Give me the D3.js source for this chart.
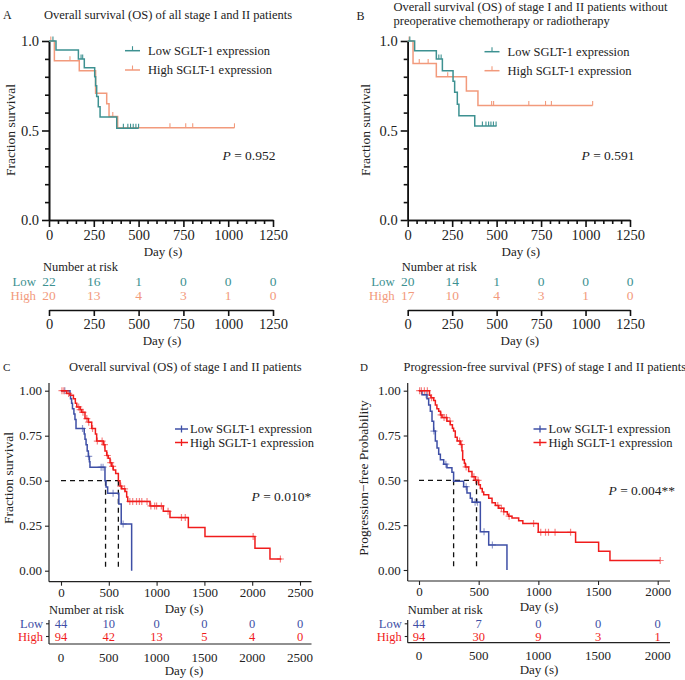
<!DOCTYPE html>
<html><head><meta charset="utf-8">
<script src="https://cdn.jsdelivr.net/npm/d3@7"></script>
<style>
body{margin:0;background:#fff}
svg text{font-family:"Liberation Serif","Times New Roman",serif}
</style>
</head><body><script>
// ---------------- DATA ----------------
// Panel A: [time, survival] steps, end time, censor times
const aLowSteps = [[0,1],[39,0.95],[164,0.90],[197,0.85],[255,0.80],[260,0.75],[266,0.69],[275,0.633],[285,0.575],[378,0.513]];
const aLowEnd = 500;
const aLowCensor = [22,179,188,415,440,455,470,485,500];
const aHighSteps = [[0,1],[30,0.89],[169,0.834],[260,0.708],[322,0.65],[335,0.578],[383,0.515]];
const aHighEnd = 1035;
const aHighCensor = [10,117,356,675,763,802,1035];
// Panel B
const bLowSteps = [[0,1],[39,0.945],[161,0.90],[195,0.834],[255,0.775],[264,0.713],[279,0.646],[288,0.583],[377,0.525]];
const bLowEnd = 500;
const bLowCensor = [12,175,188,420,440,455,468,482,497];
const bHighSteps = [[0,1],[30,0.875],[161,0.80],[330,0.72],[395,0.64]];
const bHighEnd = 1040;
const bHighCensor = [8,65,115,225,472,483,681,775,808,1040];
// Panel C
const cLowSteps = [[0,1],[94,0.977],[100,0.955],[111,0.93],[120,0.90],[135,0.87],[146,0.84],[157,0.79],[243,0.76],[251,0.73],[262,0.70],[274,0.665],[286,0.635],[297,0.605],[303,0.575],[460,0.50],[471,0.465],[488,0.43],[605,0.37],[630,0.26],[739,0]];
const cLowEnd = 739;
const cLowCensor = [40,225,290,420,440,545,650];
const cHighSteps = [[0,1],[60,0.985],[95,0.975],[130,0.955],[150,0.93],[165,0.91],[200,0.895],[216,0.88],[251,0.845],[286,0.825],[321,0.79],[360,0.76],[373,0.72],[443,0.70],[460,0.665],[478,0.64],[495,0.625],[513,0.60],[530,0.58],[547,0.56],[572,0.54],[600,0.50],[617,0.47],[635,0.455],[670,0.44],[687,0.41],[698,0.385],[931,0.36],[1070,0.33],[1140,0.295],[1332,0.24],[1506,0.19],[2029,0.125],[2186,0.065]];
const cHighEnd = 2305;
const cHighCensor = [10,30,80,185,200,230,270,290,330,380,430,455,485,520,540,625,665,720,750,790,820,845,900,940,980,1000,1050,1120,1260,1300,2010,2295];
const cMedians = [466,600];
// Panel D
const dLowSteps = [[0,1],[25,0.977],[67,0.955],[81,0.92],[95,0.885],[109,0.83],[123,0.775],[137,0.72],[151,0.68],[165,0.645],[179,0.615],[207,0.59],[234,0.57],[276,0.545],[290,0.495],[374,0.465],[402,0.43],[430,0.40],[445,0.378],[514,0.214],[584,0.14],[737,0]];
const dLowEnd = 737;
const dLowCensor = [60,125,225,395,470,490,545,615];
const dHighSteps = [[0,1],[88,0.975],[100,0.96],[123,0.945],[137,0.92],[150,0.90],[165,0.885],[180,0.865],[193,0.85],[234,0.83],[262,0.81],[280,0.79],[290,0.775],[304,0.74],[320,0.72],[346,0.70],[360,0.665],[366,0.615],[380,0.595],[388,0.575],[416,0.55],[444,0.52],[472,0.50],[500,0.475],[514,0.455],[530,0.435],[542,0.42],[584,0.40],[612,0.375],[640,0.36],[668,0.345],[710,0.325],[740,0.31],[751,0.30],[779,0.29],[835,0.275],[870,0.26],[999,0.21],[1312,0.155],[1505,0.105],[1600,0.053]];
const dHighEnd = 2021;
const dHighCensor = [5,20,45,70,105,185,210,230,260,340,355,395,460,475,495,660,690,710,755,960,1020,1060,1085,1140,1270,2021];
const dMedians = [290,482];

// ticks & risk tables
const ticksAB = [0,250,500,750,1000,1250];
const ticksC = [0,500,1000,1500,2000,2500];
const ticksD = [0,500,1000,1500,2000];
const aRiskLow = [22,16,1,0,0,0], aRiskHigh = [20,13,4,3,1,0];
const bRiskLow = [20,14,1,0,0,0], bRiskHigh = [17,10,4,3,1,0];
const cRiskLow = [44,10,0,0,0,0], cRiskHigh = [94,42,13,5,4,0];
const dRiskLow = [44,7,0,0,0], dRiskHigh = [94,30,9,3,1];
const legendLabels = ["Low SGLT-1 expression","High SGLT-1 expression"];
const riskLabels = ["Low","High"];

// colours
const TEAL="#3d9191", ORANGE="#f29a7c", BLUE="#3e4fa6", RED="#f01c1c";

// ---------------- DRAW ----------------
const svg = d3.select("body").append("svg").attr("width",685).attr("height",680);
const fmtInt = d3.format("d");

function survAt(steps,t){let s=steps[0][1];for(const d of steps){if(d[0]<=t)s=d[1];}return s;}
function stepPath(steps,end,x,y){
  const pts=steps.concat([[end,steps[steps.length-1][1]]]);
  return d3.line().x(d=>x(d[0])).y(d=>y(d[1])).curve(d3.curveStepAfter)(pts);
}
function txt(g,x,y,s,opt={}){
  return g.append("text").attr("x",x).attr("y",y).attr("dy","0.35em")
   .attr("font-size",opt.size||12.5).attr("fill",opt.fill||"#222")
   .attr("text-anchor",opt.anchor||"start").text(s);
}

// ===== Panels A & B (Prism style) =====
function prismPanel(p){
  const g=svg.append("g");
  const x=d3.scaleLinear().domain([0,1250]).range([p.x0,p.x1]);
  const y=d3.scaleLinear().domain([0,1]).range([220,41]);
  const yMajor=d3.axisLeft(y).tickValues([0,0.5,1]).tickFormat(d3.format(".1f")).tickSize(7).tickSizeOuter(0);
  const yMinor=d3.axisLeft(y).tickValues(d3.range(1,10).filter(v=>v!==5).map(v=>v/10)).tickFormat("").tickSize(4).tickSizeOuter(0);
  const xMajor=d3.axisBottom(x).tickValues(ticksAB).tickFormat(fmtInt).tickSize(7).tickSizeOuter(0);
  const xMinor=d3.axisBottom(x).tickValues(d3.range(50,1250,50).filter(v=>v%250)).tickFormat("").tickSize(4).tickSizeOuter(0);
  [yMajor,yMinor].forEach(a=>{g.append("g").attr("transform",`translate(${p.x0},0)`).call(a);});
  [xMajor,xMinor].forEach(a=>{g.append("g").attr("transform",`translate(0,220)`).call(a);});
  g.selectAll(".domain,.tick line").attr("stroke","#111").attr("stroke-width",1.6);
  g.selectAll(".tick text").attr("font-size",14.5).attr("fill","#222");
  const series=[[p.low,p.lowEnd,p.lowC,TEAL],[p.high,p.highEnd,p.highC,ORANGE]];
  series.slice().reverse().forEach(([st,en,ce,col])=>{
    g.append("path").attr("d",stepPath(st,en,x,y)).attr("fill","none").attr("stroke",col).attr("stroke-width",1.5);
    g.selectAll(null).data(ce).enter().append("line")
      .attr("x1",d=>x(d)).attr("x2",d=>x(d))
      .attr("y1",d=>y(survAt(st,d))).attr("y2",d=>y(survAt(st,d))-4.5)
      .attr("stroke",col).attr("stroke-width",1.1);
  });
  [TEAL,ORANGE].forEach((c,i)=>{
    const ly=p.legY[i];
    g.append("line").attr("x1",p.legX).attr("x2",p.legX+15).attr("y1",ly).attr("y2",ly).attr("stroke",c).attr("stroke-width",1.5);
    g.append("line").attr("x1",p.legX+7.5).attr("x2",p.legX+7.5).attr("y1",ly).attr("y2",ly-4.5).attr("stroke",c).attr("stroke-width",1.1);
    txt(g,p.legX+23,ly,legendLabels[i],{size:12.5});
  });
  g.append("text").attr("transform",`translate(${p.ylabX},130) rotate(-90)`).attr("text-anchor","middle")
   .attr("dy","0.35em").attr("font-size",13.5).attr("fill","#222").text("Fraction survival");
  const pt=g.append("text").attr("x",p.pX).attr("y",155).attr("dy","0.35em").attr("font-size",13.5).attr("fill","#222");
  pt.append("tspan").attr("font-style","italic").text("P");
  pt.append("tspan").text(" = "+p.pVal);
  txt(g,(p.x0+p.x1)/2+2,251.5,"Day (s)",{anchor:"middle",size:13});
  // risk table
  txt(g,p.x0-6,266.5,"Number at risk",{size:12.5});
  [[p.rLow,TEAL,281.6],[p.rHigh,ORANGE,295.2]].forEach(([arr,col,yy],i)=>{
    txt(g,p.x0-13,yy,riskLabels[i],{anchor:"end",fill:col,size:12.8});
    g.selectAll(null).data(arr).enter().append("text").attr("x",(d,j)=>x(ticksAB[j])).attr("y",yy).attr("dy","0.35em")
      .attr("text-anchor","middle").attr("font-size",13.5).attr("fill",col).text(d=>d);
  });
  const ra=g.append("g").attr("transform","translate(0,310)").call(d3.axisBottom(x).tickValues(ticksAB).tickFormat(fmtInt).tickSize(6).tickSizeOuter(0));
  ra.selectAll(".domain,.tick line").attr("stroke","#111").attr("stroke-width",1.6);
  ra.selectAll(".tick text").attr("font-size",14.5).attr("fill","#222");
  txt(g,(p.x0+p.x1)/2+1,340.5,"Day (s)",{anchor:"middle",size:13});
  return g;
}

const gA=prismPanel({x0:49,x1:273,low:aLowSteps,lowEnd:aLowEnd,lowC:aLowCensor,high:aHighSteps,highEnd:aHighEnd,highC:aHighCensor,
  legX:125,legY:[50.7,70],ylabX:10,pX:222.5,pVal:"0.952",rLow:aRiskLow,rHigh:aRiskHigh});
txt(gA,3,15,"A",{size:12});
txt(gA,44,15,"Overall survival (OS) of all stage I and II patients",{size:12.5});

const gB=prismPanel({x0:407.7,x1:630,low:bLowSteps,lowEnd:bLowEnd,lowC:bLowCensor,high:bHighSteps,highEnd:bHighEnd,highC:bHighCensor,
  legX:484.5,legY:[51.7,70.7],ylabX:365,pX:581.5,pVal:"0.591",rLow:bRiskLow,rHigh:bRiskHigh});
txt(gB,356.5,15.7,"B",{size:12});
txt(gB,393.5,6.8,"Overall survival (OS) of stage I and II patients without",{size:12.5});
txt(gB,393.5,20.8,"preoperative chemotherapy or radiotherapy",{size:12.5});

// ===== Panels C & D (survminer style) =====
function ggPanel(p){
  const g=svg.append("g");
  const x=d3.scaleLinear().domain([0,p.xmax]).range([p.xz,p.xm]);
  const y=d3.scaleLinear().domain([0,1]).range([p.y0,390.7]);
  const ax="#222";
  g.append("line").attr("x1",p.ax).attr("x2",p.ax).attr("y1",383).attr("y2",p.axY).attr("stroke",ax).attr("stroke-width",1.2);
  g.append("line").attr("x1",p.ax).attr("x2",p.axR).attr("y1",p.axY).attr("y2",p.axY).attr("stroke",ax).attr("stroke-width",1.2);
  const ya=g.append("g").attr("transform",`translate(${p.ax},0)`).call(d3.axisLeft(y).tickValues([0,0.25,0.5,0.75,1]).tickFormat(d3.format(".2f")).tickSize(4).tickSizeOuter(0));
  const xa=g.append("g").attr("transform",`translate(0,${p.axY})`).call(d3.axisBottom(x).tickValues(p.ticks).tickFormat(fmtInt).tickSize(4).tickPadding(2).tickSizeOuter(0));
  [ya,xa].forEach(a=>{a.select(".domain").remove();a.selectAll(".tick line").attr("stroke",ax).attr("stroke-width",1.1);
    a.selectAll(".tick text").attr("font-size",13).attr("fill","#222");});
  const dash=g.append("g").attr("stroke","#111").attr("stroke-width",1.3).attr("stroke-dasharray","5,4").attr("fill","none");
  dash.append("line").attr("x1",x(0)).attr("x2",x(p.med[1])).attr("y1",y(0.5)).attr("y2",y(0.5));
  p.med.forEach(m=>dash.append("line").attr("x1",x(m)).attr("x2",x(m)).attr("y1",y(0.5)).attr("y2",y(0)));
  const series=[[p.low,p.lowEnd,p.lowC,BLUE],[p.high,p.highEnd,p.highC,RED]];
  series.forEach(([st,en,ce,col])=>{
    g.append("path").attr("d",stepPath(st,en,x,y)).attr("fill","none").attr("stroke",col).attr("stroke-width",1.5);
    g.selectAll(null).data(ce).enter().append("path")
      .attr("d",d=>{const cx=x(d),cy=y(survAt(st,d));return `M${cx-3.5},${cy}H${cx+3.5}M${cx},${cy-3.5}V${cy+3.5}`;})
      .attr("stroke",col).attr("stroke-width",1.2).attr("opacity",0.55);
  });
  [BLUE,RED].forEach((c,i)=>{
    const ly=p.legY[i];
    g.append("line").attr("x1",p.legX).attr("x2",p.legX+13).attr("y1",ly).attr("y2",ly).attr("stroke",c).attr("stroke-width",1.5);
    g.append("path").attr("d",`M${p.legX+6.5},${ly-3.5}V${ly+3.5}`).attr("stroke",c).attr("stroke-width",1.3);
    txt(g,p.legX+15,ly,legendLabels[i],{size:12.5});
  });
  g.append("text").attr("transform",`translate(${p.ylabX},478) rotate(-90)`).attr("text-anchor","middle")
   .attr("dy","0.35em").attr("font-size",13.5).attr("fill","#222").text(p.ylab);
  const pt=g.append("text").attr("x",p.pX).attr("y",p.pY).attr("dy","0.35em").attr("font-size",13.5).attr("fill","#222");
  pt.append("tspan").attr("font-style","italic").text("P");
  pt.append("tspan").text(" = "+p.pVal);
  txt(g,p.dayX,p.dayY,"Day (s)",{anchor:"middle",size:13});
  // risk table
  txt(g,p.ax,610,"Number at risk",{size:12.5});
  g.append("line").attr("x1",p.ax).attr("x2",p.ax).attr("y1",620).attr("y2",p.rAxY).attr("stroke",ax).attr("stroke-width",1.2);
  g.append("line").attr("x1",p.ax).attr("x2",p.axR).attr("y1",p.rAxY).attr("y2",p.rAxY).attr("stroke",ax).attr("stroke-width",1.2);
  [[p.rLow,BLUE,623.8],[p.rHigh,RED,636.5]].forEach(([arr,col,yy],i)=>{
    g.append("line").attr("x1",p.ax-3).attr("x2",p.ax).attr("y1",yy).attr("y2",yy).attr("stroke",ax).attr("stroke-width",1.1);
    txt(g,p.ax-6,yy,riskLabels[i],{anchor:"end",fill:col,size:12.5});
    g.selectAll(null).data(arr).enter().append("text").attr("x",(d,j)=>x(p.ticks[j])).attr("y",yy).attr("dy","0.35em")
      .attr("text-anchor","middle").attr("font-size",12.5).attr("fill",col).text(d=>d);
  });
  g.selectAll(null).data(p.ticks).enter().append("text").attr("x",d=>x(d)).attr("y",p.rAxY+13).attr("dy","0.35em")
    .attr("text-anchor","middle").attr("font-size",13).attr("fill","#222").text(d=>fmtInt(d));
  txt(g,p.dayX,p.rAxY+26.5,"Day (s)",{anchor:"middle",size:13});
  return g;
}

const gC=ggPanel({xmax:2500,xz:61,xm:300,y0:570.7,ax:49,axR:311.5,axY:581.7,ticks:ticksC,
  low:cLowSteps,lowEnd:cLowEnd,lowC:cLowCensor,high:cHighSteps,highEnd:cHighEnd,highC:cHighCensor,med:cMedians,
  legX:175,legY:[429,442.5],ylabX:8,ylab:"Fraction survival",pX:251.5,pY:496.7,pVal:"0.010*",
  dayX:184,dayY:608.5,rLow:cRiskLow,rHigh:cRiskHigh,rAxY:644});
txt(gC,3,366.7,"C",{size:11});
txt(gC,69,366.7,"Overall survival (OS) of stage I and II patients",{size:12.5});

const gD=ggPanel({xmax:2000,xz:419,xm:657.7,y0:570,ax:407.7,axR:670,axY:581,ticks:ticksD,
  low:dLowSteps,lowEnd:dLowEnd,lowC:dLowCensor,high:dHighSteps,highEnd:dHighEnd,highC:dHighCensor,med:dMedians,
  legX:533.5,legY:[429,442.5],ylabX:363,ylab:"Progression\u2212free Probability",pX:608.5,pY:490,pVal:"0.004**",
  dayX:539,dayY:606.5,rLow:dRiskLow,rHigh:dRiskHigh,rAxY:642.7});
txt(gD,360,366.7,"D",{size:11});
txt(gD,403.5,366.7,"Progression-free survival (PFS) of stage I and II patients",{size:12.5});
</script></body></html>
